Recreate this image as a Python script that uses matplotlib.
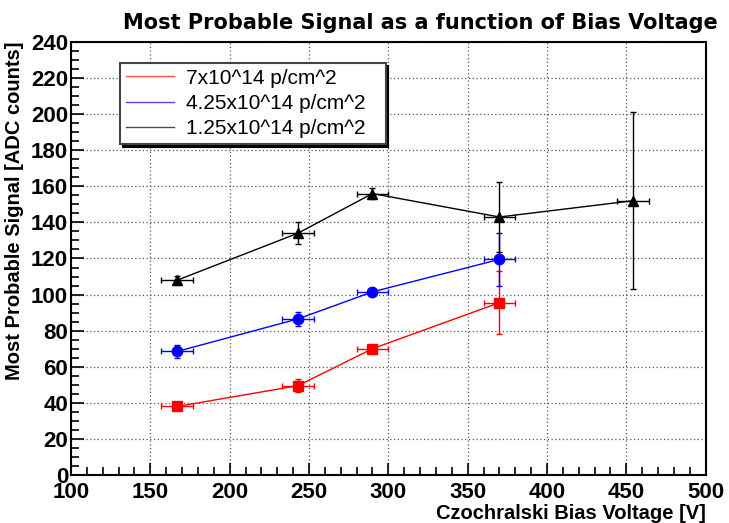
import matplotlib.pyplot as plt
from matplotlib.ticker import MultipleLocator

plt.rcParams['font.family'] = ['Liberation Sans', 'DejaVu Sans']

# bias voltage points per fluence (V)
v_7 = [167, 243, 290, 370]
v_425 = [167, 243, 290, 370]
v_125 = [167, 243, 290, 370, 454]
v_err = 10

# most probable signal (ADC counts)
mp_7 = [38, 49.5, 70, 95.5]
mp_7_err = [1.5, 3.5, 1.5, 17.5]
mp_425 = [68.5, 86.5, 101.5, 119.5]
mp_425_err = [3.5, 4, 1.5, 14.5]
mp_125 = [108, 134, 156, 143, 152]
mp_125_err = [2.5, 6, 3, 19.5, 49]

labels = ['7x10^14 p/cm^2', '4.25x10^14 p/cm^2', '1.25x10^14 p/cm^2']


fig = plt.figure(figsize=(7.29, 5.23), dpi=100)
ax = fig.add_axes([0.0974, 0.0918, 0.8706, 0.8279])

series = [
    (v_7, mp_7, mp_7_err, 'red', 's', 7),
    (v_425, mp_425, mp_425_err, 'blue', 'o', 7.5),
    (v_125, mp_125, mp_125_err, 'black', '^', 7),
]
handles = []
for (x, y, ye, c, m, ms), lab in zip(series, labels):
    ax.errorbar(x, y, yerr=ye, xerr=v_err, color=c, marker=m, ms=ms,
                lw=1.0, elinewidth=1.0, capsize=2, capthick=1.0)
    h, = ax.plot([], [], color=c, lw=1.0, alpha=0.7)
    handles.append(h)

ax.set_xlim(100, 500)
ax.set_ylim(0, 240)
ax.xaxis.set_major_locator(MultipleLocator(50))
ax.xaxis.set_minor_locator(MultipleLocator(10))
ax.yaxis.set_major_locator(MultipleLocator(20))
ax.yaxis.set_minor_locator(MultipleLocator(5))
ax.tick_params(which='both', direction='in', top=False, right=False,
               labelsize=16, width=1.2)
ax.tick_params(which='major', length=9)
ax.tick_params(which='minor', length=6)
ax.tick_params(axis='x', pad=5)
ax.tick_params(axis='y', pad=2)
for lab in ax.get_xticklabels() + ax.get_yticklabels():
    lab.set_fontweight('bold')

ax.grid(True, which='major', color='#555555', linestyle=(0, (1, 2)), lw=0.9)
for sp in ax.spines.values():
    sp.set_linewidth(1.5)

ax.set_title('Most Probable Signal as a function of Bias Voltage',
             fontsize=15, fontweight='bold', family='DejaVu Sans',
             x=0.551, pad=9)
ax.set_xlabel('Czochralski Bias Voltage [V]', fontsize=14.5, fontweight='bold',
              loc='right', labelpad=1)
ax.set_ylabel('Most Probable Signal [ADC counts]', fontsize=14.5,
              fontweight='bold', loc='top', labelpad=5)

leg = ax.legend(handles, labels, loc='upper left',
                bbox_to_anchor=(0.077, 0.760, 0.4186, 0.192), mode='expand',
                borderaxespad=0,
                fontsize=15, frameon=True, fancybox=False,
                shadow={'color': 'black', 'alpha': 1},
                handlelength=2.3, handletextpad=0.6, labelspacing=0.3,
                borderpad=0.28)
leg.get_frame().set_edgecolor('#444444')
leg.get_frame().set_linewidth(1.5)
leg.get_frame().set_alpha(1)

fig.savefig('out.png', dpi=100)
